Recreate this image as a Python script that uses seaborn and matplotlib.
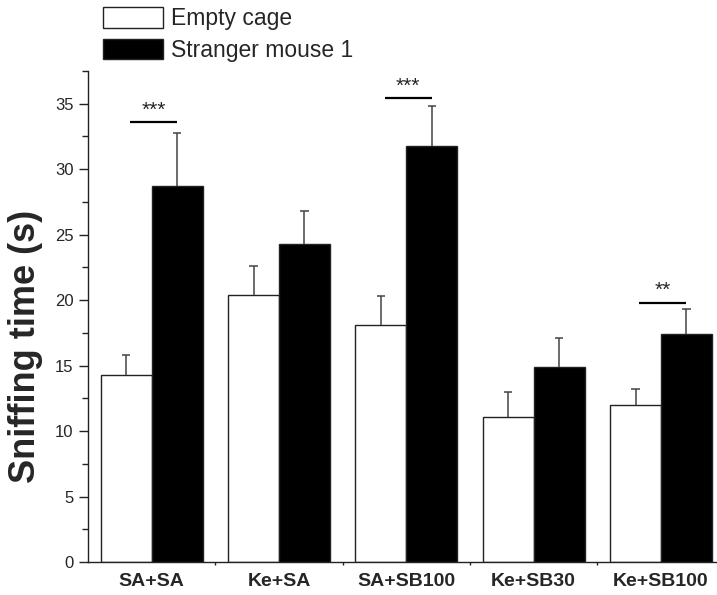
import pandas as pd
import matplotlib
matplotlib.use("Agg")
import matplotlib.pyplot as plt
import seaborn as sns
from matplotlib.ticker import MultipleLocator, FixedLocator

# Data
groups = ["SA+SA", "Ke+SA", "SA+SB100", "Ke+SB30", "Ke+SB100"]
conditions = ["Empty cage", "Stranger mouse 1"]
empty_mean = [14.3, 20.4, 18.1, 11.1, 12.0]
empty_sem = [1.5, 2.2, 2.2, 1.9, 1.2]
stranger_mean = [28.7, 24.3, 31.8, 14.9, 17.4]
stranger_sem = [4.1, 2.5, 3.0, 2.2, 1.9]

# significance marks: group index, label, line height
sig_groups = [0, 2, 4]
sig_labels = ["***", "***", "**"]
sig_heights = [33.6, 35.4, 19.8]

df = pd.DataFrame({
    "group": groups * 2,
    "condition": [conditions[0]] * len(groups) + [conditions[1]] * len(groups),
    "time": empty_mean + stranger_mean,
})
sems = [empty_sem, stranger_sem]

sns.set_style("ticks")
plt.rcParams["font.family"] = ["Liberation Sans", "DejaVu Sans"]

fig = plt.figure(figsize=(7.17, 5.95), dpi=100)
ax = fig.add_axes([88 / 717, 33 / 595, 1 - 88 / 717, (562 - 71) / 595])

sns.barplot(data=df, x="group", y="time", hue="condition", order=groups,
            hue_order=conditions, palette={"Empty cage": "white", "Stranger mouse 1": "black"},
            edgecolor="#222222", linewidth=1, errorbar=None, width=0.8, ax=ax)

# upward-only error bars (stem + top cap)
cap = 0.032
centers = []
for cont, sem in zip(ax.containers, sems):
    xs = [p.get_x() + p.get_width() / 2 for p in cont.patches]
    hs = [p.get_height() for p in cont.patches]
    centers.append(xs)
    tops = [h + s for h, s in zip(hs, sem)]
    ax.vlines(xs, hs, tops, color="#444444", lw=1.1, zorder=3)
    ax.hlines(tops, [x - cap for x in xs], [x + cap for x in xs], color="#444444", lw=1.1, zorder=3)

# significance lines
for g, lab, h in zip(sig_groups, sig_labels, sig_heights):
    x0 = centers[0][g] + 0.03
    x1 = centers[1][g]
    ax.plot([x0, x1], [h, h], color="black", lw=1.6, solid_capstyle="butt")
    ax.text((x0 + x1) / 2, h + 0.2, lab, ha="center", va="bottom", fontsize=15)

ax.set_xlim(-0.5, 4.44)
ax.set_ylim(0, 37.5)
ax.yaxis.set_major_locator(MultipleLocator(5))
ax.yaxis.set_minor_locator(MultipleLocator(2.5))
ax.xaxis.set_minor_locator(FixedLocator([0.5, 1.5, 2.5, 3.5]))
ax.tick_params(axis="y", which="major", length=6.5, width=1, labelsize=12, pad=4, color="#222222")
ax.tick_params(axis="y", which="minor", length=4, width=1, color="#222222")
ax.tick_params(axis="x", which="major", length=0, labelsize=14, pad=8)
ax.tick_params(axis="x", which="minor", length=2.5, width=1, color="#222222")
for lbl in ax.get_xticklabels():
    lbl.set_fontweight("bold")

sns.despine(ax=ax)
for s in ["left", "bottom"]:
    ax.spines[s].set_linewidth(1)
    ax.spines[s].set_color("#222222")

ax.set_xlabel("")
ax.set_ylabel("Sniffing time (s)", fontsize=26, fontweight="bold")
ax.yaxis.set_label_coords(-0.072, 0.44)

handles, labels = ax.get_legend_handles_labels()
ax.get_legend().remove()
fig.legend(handles, labels, loc="upper left", bbox_to_anchor=(103 / 717, 1 - 7 / 595),
           frameon=False, fontsize=16.5, borderpad=0, borderaxespad=0,
           handlelength=2.6, handleheight=1.0, handletextpad=0.35, labelspacing=0.38)

fig.savefig("out.png", dpi=100)
